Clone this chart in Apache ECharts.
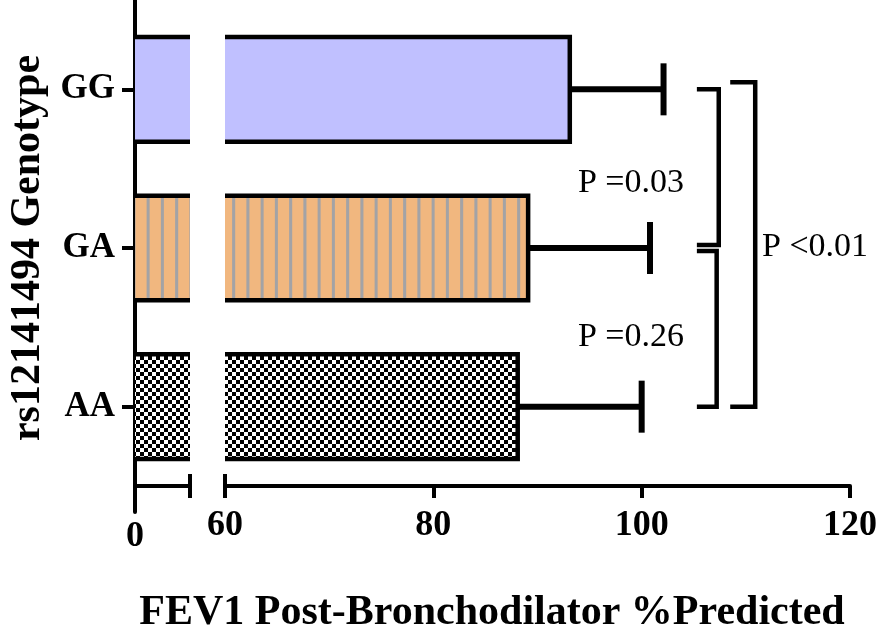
<!DOCTYPE html>
<html><head><meta charset="utf-8">
<script src="https://cdn.jsdelivr.net/npm/echarts@6/dist/echarts.min.js"></script>
<style>html,body{margin:0;padding:0;background:#fff}#c{width:883px;height:639px}</style>
</head><body><div id="c"></div>
<script>
// ---- data ----
const categories = ['GG', 'GA', 'AA'];
const means = [93.1, 89.1, 88.1];
const upperErr = [102.1, 100.8, 100.0];
const leftTickLabels = [0];
const rightTickLabels = [60, 80, 100, 120];
const bracketFrom = [0, 1, 0];
const bracketTo = [1, 2, 2];
const bracketX = [107.4, 107.2, 110.9];
const bracketArmX = [105.3, 105.3, 108.5];
const pLabels = ['P =0.03', 'P =0.26', 'P <0.01'];
const xTitle = 'FEV1 Post-Bronchodilator %Predicted';
const yTitle = 'rs12141494 Genotype';

// ---- styles ----
const FONT = "'Liberation Serif','Times New Roman',Times,serif";
const LEFT_MAX = 5, RIGHT_MIN = 60, RIGHT_MAX = 120;
const BAR_RATIO = 0.66, BW = 4.5, EW = 6, CAP = 26, BRW = 4.5;
const BRACKET_DY = [[0, -3], [3, 0], [-7, 0]];

function stripeCanvas() {
  const c = document.createElement('canvas'); c.width = 14; c.height = 4;
  const g = c.getContext('2d');
  g.fillStyle = '#f1b77f'; g.fillRect(0, 0, 14, 4);
  g.fillStyle = '#a3a3a6'; g.fillRect(4, 0, 3, 4);
  return c;
}
function checkerCanvas() {
  const c = document.createElement('canvas'); c.width = 8; c.height = 8;
  const g = c.getContext('2d');
  g.fillStyle = '#fff'; g.fillRect(0, 0, 8, 8);
  g.fillStyle = '#000'; g.fillRect(0, 0, 4, 4); g.fillRect(4, 4, 4, 4);
  return c;
}
const fills = [
  '#c0c0ff',
  { image: stripeCanvas(), repeat: 'repeat', scaleX: 14.25 / 14 },
  { image: checkerCanvas(), repeat: 'repeat' }
];

const barData = categories.map((c, i) => [means[i], i]);
const errData = categories.map((c, i) => [means[i], i, upperErr[i]]);
const brData = pLabels.map((p, i) => [bracketX[i], bracketFrom[i], bracketTo[i], bracketArmX[i], i]);

function renderLeft(params, api) {
  const val = api.value(0), idx = api.value(1);
  const h = api.size([0, 1])[1] * BAR_RATIO;
  const c0 = api.coord([0, idx]);
  const x1 = api.coord([Math.min(val, LEFT_MAX), idx])[0];
  const yT = c0[1] - h / 2, yB = c0[1] + h / 2;
  return { type: 'group', children: [
    { type: 'rect', shape: { x: c0[0], y: yT, width: x1 - c0[0], height: h }, style: { fill: fills[idx] } },
    { type: 'line', shape: { x1: c0[0], y1: yT, x2: x1, y2: yT }, style: { stroke: '#000', lineWidth: BW } },
    { type: 'line', shape: { x1: c0[0], y1: yB, x2: x1, y2: yB }, style: { stroke: '#000', lineWidth: BW } }
  ]};
}
function renderRight(params, api) {
  const val = api.value(0), idx = api.value(1);
  const h = api.size([0, 1])[1] * BAR_RATIO;
  const c0 = api.coord([RIGHT_MIN, idx]);
  const x1 = api.coord([val, idx])[0];
  const yT = c0[1] - h / 2, yB = c0[1] + h / 2;
  return { type: 'group', children: [
    { type: 'rect', shape: { x: c0[0], y: yT, width: x1 - c0[0], height: h }, style: { fill: fills[idx] } },
    { type: 'polyline', shape: { points: [[c0[0], yT], [x1, yT], [x1, yB], [c0[0], yB]] },
      style: { stroke: '#000', lineWidth: BW, fill: 'none', lineJoin: 'miter' } }
  ]};
}
function renderErr(params, api) {
  const idx = api.value(1);
  const a = api.coord([api.value(0), idx]);
  const b = api.coord([api.value(2), idx]);
  return { type: 'group', children: [
    { type: 'line', shape: { x1: a[0], y1: a[1], x2: b[0], y2: b[1] }, style: { stroke: '#000', lineWidth: EW } },
    { type: 'line', shape: { x1: b[0], y1: b[1] - CAP, x2: b[0], y2: b[1] + CAP }, style: { stroke: '#000', lineWidth: EW } }
  ]};
}
function renderBracket(params, api) {
  const k = api.value(4);
  const top = api.coord([api.value(0), api.value(1)]);
  const bot = api.coord([api.value(0), api.value(2)]);
  const arm = api.coord([api.value(3), api.value(1)])[0];
  const yT = top[1] + BRACKET_DY[k][0], yB = bot[1] + BRACKET_DY[k][1];
  return { type: 'polyline', shape: { points: [[arm, yT], [top[0], yT], [top[0], yB], [arm, yB]] },
    style: { stroke: '#000', lineWidth: BRW, fill: 'none', lineJoin: 'miter' } };
}

const chart = echarts.init(document.getElementById('c'), null, { renderer: 'canvas' });
const tickFont = { fontFamily: FONT, fontWeight: 'bold', fontSize: 36, color: '#000' };
chart.setOption({
  animation: false,
  backgroundColor: '#fff',
  grid: [
    { left: 135, top: 10, width: 55, height: 476 },
    { left: 225, top: 10, width: 625, height: 476 },
    { left: 135, top: -10, width: 55, height: 522 }
  ],
  xAxis: [
    { gridIndex: 0, type: 'value', min: 0, max: LEFT_MAX, interval: LEFT_MAX,
      axisLine: { show: true, lineStyle: { color: '#000', width: 4 } },
      axisTick: { show: true, length: 12, lineStyle: { color: '#000', width: 4 } },
      axisLabel: { ...tickFont, margin: 33, formatter: v => leftTickLabels.includes(v) ? String(v) : '' },
      splitLine: { show: false } },
    { gridIndex: 0, type: 'value', min: 0, max: LEFT_MAX, position: 'bottom',
      axisLine: { show: false },
      axisTick: { show: true, inside: true, length: 12, customValues: [LEFT_MAX], lineStyle: { color: '#000', width: 4 } },
      axisLabel: { show: false }, splitLine: { show: false } },
    { gridIndex: 1, type: 'value', min: RIGHT_MIN, max: RIGHT_MAX, interval: 20,
      axisLine: { show: true, lineStyle: { color: '#000', width: 4 } },
      axisTick: { show: true, length: 12, lineStyle: { color: '#000', width: 4 } },
      axisLabel: { ...tickFont, margin: 22, customValues: rightTickLabels },
      splitLine: { show: false } },
    { gridIndex: 1, type: 'value', min: RIGHT_MIN, max: RIGHT_MAX, position: 'bottom',
      axisLine: { show: false },
      axisTick: { show: true, inside: true, length: 12, customValues: [RIGHT_MIN], lineStyle: { color: '#000', width: 4 } },
      axisLabel: { show: false }, splitLine: { show: false } },
    { gridIndex: 2, type: 'value', show: false }
  ],
  yAxis: [
    { gridIndex: 0, type: 'category', inverse: true, data: categories,
      axisLine: { show: false },
      axisTick: { show: true, alignWithLabel: true, length: 13, lineStyle: { color: '#000', width: 4 } },
      axisLabel: { fontFamily: FONT, fontWeight: 'bold', fontSize: 35, color: '#000', margin: 20 },
      name: yTitle, nameLocation: 'middle', nameRotate: 90, nameGap: 86,
      nameTextStyle: { fontFamily: FONT, fontWeight: 'bold', fontSize: 42, color: '#000' } },
    { gridIndex: 1, type: 'category', inverse: true, data: categories, show: false },
    { gridIndex: 2, type: 'value', min: 0, max: 1,
      axisLine: { show: true, lineStyle: { color: '#000', width: 4 } },
      axisTick: { show: false }, axisLabel: { show: false }, splitLine: { show: false } }
  ],
  series: [
    { type: 'custom', xAxisIndex: 0, yAxisIndex: 0, data: barData, encode: { x: 0, y: 1 }, renderItem: renderLeft, z: 1 },
    { type: 'custom', xAxisIndex: 2, yAxisIndex: 1, data: barData, encode: { x: 0, y: 1 }, renderItem: renderRight, z: 1 },
    { type: 'custom', xAxisIndex: 2, yAxisIndex: 1, data: errData, encode: { x: [0, 2], y: 1 }, renderItem: renderErr, z: 2 },
    { type: 'custom', xAxisIndex: 2, yAxisIndex: 1, data: brData, encode: { x: [0, 3], y: [1, 2] }, renderItem: renderBracket, z: 2, clip: false }
  ],
  graphic: [
    { type: 'text', x: 492, y: 613, style: { text: xTitle, fontFamily: FONT, fontWeight: 'bold', fontSize: 42, fill: '#000', align: 'center', verticalAlign: 'middle' } },
    { type: 'text', x: 631, y: 183, style: { text: pLabels[0], fontFamily: FONT, fontSize: 34, fill: '#000', align: 'center', verticalAlign: 'middle' } },
    { type: 'text', x: 631, y: 337, style: { text: pLabels[1], fontFamily: FONT, fontSize: 34, fill: '#000', align: 'center', verticalAlign: 'middle' } },
    { type: 'text', x: 762, y: 247, style: { text: pLabels[2], fontFamily: FONT, fontSize: 34, fill: '#000', align: 'left', verticalAlign: 'middle' } }
  ]
});
</script></body></html>
